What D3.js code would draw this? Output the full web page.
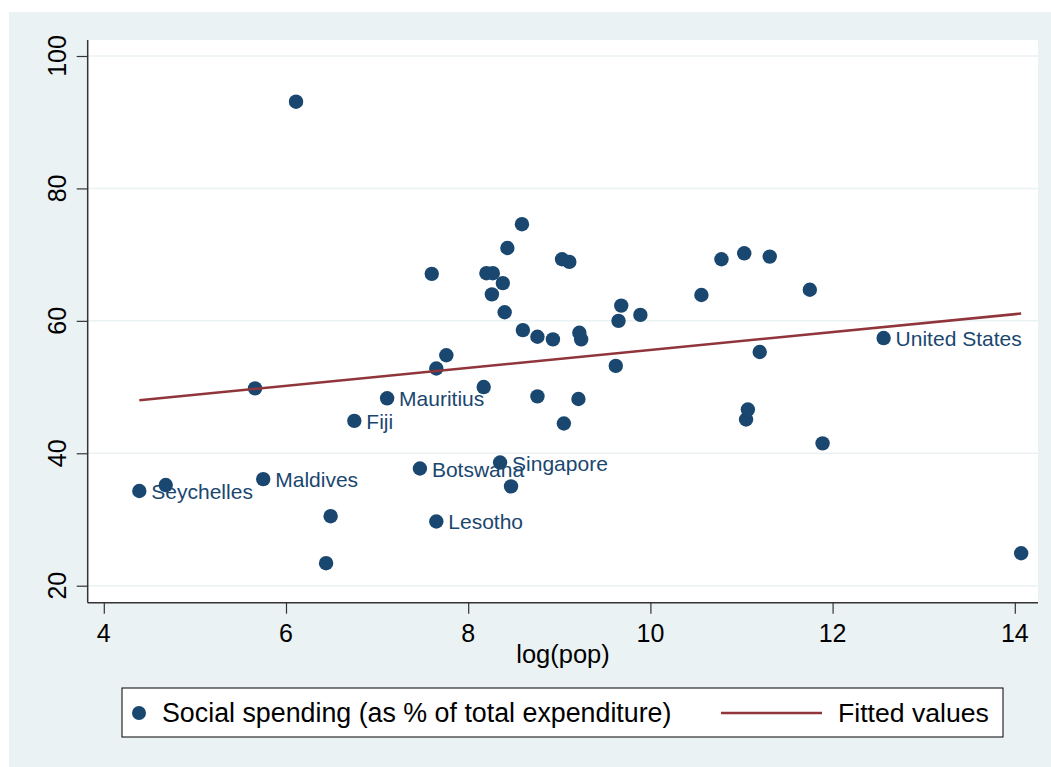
<!DOCTYPE html>
<html>
<head>
<meta charset="utf-8">
<script src="https://cdn.jsdelivr.net/npm/d3@7"></script>
<style>
  html, body { margin: 0; padding: 0; background: #fff; }
  svg { display: block; font-family: "Liberation Sans", Arial, sans-serif; }
</style>
</head>
<body>
<div id="chart"></div>
<script>
// --- data ---
const logPop = [4.39, 4.68, 5.66, 5.75, 6.11, 6.44, 6.49, 6.75, 7.11, 7.47, 7.60, 7.65, 7.65, 7.76,
  8.17, 8.20, 8.26, 8.27, 8.35, 8.38, 8.40, 8.43, 8.47, 8.59, 8.60, 8.76, 8.76, 8.93, 9.03, 9.05,
  9.11, 9.21, 9.22, 9.24, 9.62, 9.65, 9.68, 9.89, 10.56, 10.78, 11.03, 11.05, 11.07, 11.20, 11.31,
  11.75, 11.89, 12.56, 14.07];
const socialSpending = [34.3, 35.2, 49.8, 36.1, 93.1, 23.4, 30.5, 44.9, 48.3, 37.7, 67.1, 29.7, 52.8, 54.8,
  50.0, 67.2, 64.0, 67.2, 38.6, 65.7, 61.3, 71.0, 35.0, 74.6, 58.6, 57.6, 48.6, 57.2, 69.3, 44.5,
  68.9, 48.2, 58.2, 57.2, 53.2, 60.0, 62.3, 60.9, 63.9, 69.3, 70.2, 45.1, 46.6, 55.3, 69.7,
  64.7, 41.5, 57.4, 24.9];
const countryLabel = ["Seychelles", "", "", "Maldives", "", "", "", "Fiji", "Mauritius", "Botswana", "", "Lesotho", "", "",
  "", "", "", "", "Singapore", "", "", "", "", "", "", "", "", "", "", "",
  "", "", "", "", "", "", "", "", "", "", "", "", "", "", "",
  "", "", "United States", ""];
// fitted line end points (x, y)
const fittedX = [4.39, 14.07];
const fittedY = [48.0, 61.1];
const xTicks = [4, 6, 8, 10, 12, 14];
const yTicks = [20, 40, 60, 80, 100];
const legendLabels = ["Social spending (as % of total expenditure)", "Fitted values"];

const W = 1051, H = 767;
const navy = "#1a476f", maroon = "#90353b", bg = "#eaf2f3";
const plot = { left: 87.7, right: 1038, top: 40, bottom: 602.7 };

const svg = d3.select("#chart").append("svg").attr("width", W).attr("height", H);

// outer background
svg.append("rect").attr("x", 9).attr("y", 12).attr("width", W - 9).attr("height", H - 12).attr("fill", bg);
// plot region
svg.append("rect")
  .attr("x", plot.left).attr("y", plot.top)
  .attr("width", plot.right - plot.left).attr("height", plot.bottom - plot.top)
  .attr("fill", "#fff");

const x = d3.scaleLinear().domain([4, 14]).range([103.8, 1014.8]);
const y = d3.scaleLinear().domain([20, 100]).range([585.7, 56]);

// gridlines
svg.append("g").selectAll("line").data(yTicks).join("line")
  .attr("x1", plot.left).attr("x2", plot.right)
  .attr("y1", d => y(d)).attr("y2", d => y(d))
  .attr("stroke", bg).attr("stroke-width", 1.5);

// y axis
const yAxis = svg.append("g").attr("transform", `translate(${plot.left},0)`)
  .call(d3.axisLeft(y).tickValues(yTicks).tickSize(11).tickFormat(""));
yAxis.select(".domain").attr("d", `M0,${plot.top}V${plot.bottom}`).attr("stroke", "#333").attr("stroke-width", 1.5);
yAxis.selectAll(".tick line").attr("stroke", "#333").attr("stroke-width", 1.2);
svg.append("g").selectAll("text").data(yTicks).join("text")
  .attr("transform", d => `translate(65.5,${y(d)}) rotate(-90)`)
  .attr("text-anchor", "middle")
  .attr("font-size", 25)
  .attr("fill", "#000")
  .text(d => d);

// x axis
const xAxis = svg.append("g").attr("transform", `translate(0,${plot.bottom})`)
  .call(d3.axisBottom(x).tickValues(xTicks).tickSize(11).tickFormat(""));
xAxis.select(".domain").attr("d", `M${plot.left},0H${plot.right}`).attr("stroke", "#333").attr("stroke-width", 1.5);
xAxis.selectAll(".tick line").attr("stroke", "#333").attr("stroke-width", 1.2);
svg.append("g").selectAll("text").data(xTicks).join("text")
  .attr("x", d => x(d)).attr("y", 642)
  .attr("text-anchor", "middle")
  .attr("font-size", 25)
  .attr("fill", "#000")
  .text(d => d);

svg.append("text")
  .attr("x", 563).attr("y", 663)
  .attr("text-anchor", "middle")
  .attr("font-size", 25.5)
  .attr("fill", "#000")
  .text("log(pop)");

// points + labels
const pts = logPop.map((v, i) => ({ x: v, y: socialSpending[i], label: countryLabel[i] }));
const g = svg.append("g");
pts.forEach(d => {
  g.append("circle")
    .attr("cx", x(d.x)).attr("cy", y(d.y)).attr("r", 7.2)
    .attr("fill", navy);
  if (d.label) {
    g.append("text")
      .attr("x", x(d.x) + 12).attr("y", y(d.y) + 8)
      .attr("font-size", 21)
      .attr("fill", navy)
      .text(d.label);
  }
});

// fitted line
svg.append("path")
  .attr("d", d3.line()(fittedX.map((v, i) => [x(v), y(fittedY[i])])))
  .attr("stroke", maroon).attr("stroke-width", 2.5).attr("fill", "none");

// legend
const leg = svg.append("g");
leg.append("rect").attr("x", 122).attr("y", 688).attr("width", 881).attr("height", 49)
  .attr("fill", "#fff").attr("stroke", "#000").attr("stroke-width", 1);
leg.append("circle").attr("cx", 139).attr("cy", 713).attr("r", 7).attr("fill", navy);
leg.append("text").attr("x", 162).attr("y", 722).attr("font-size", 26.8).attr("fill", "#000").text(legendLabels[0]);
leg.append("line").attr("x1", 721).attr("x2", 822).attr("y1", 713).attr("y2", 713)
  .attr("stroke", maroon).attr("stroke-width", 2.5);
leg.append("text").attr("x", 838).attr("y", 722).attr("font-size", 26.6).attr("fill", "#000").text(legendLabels[1]);
</script>
</body>
</html>
